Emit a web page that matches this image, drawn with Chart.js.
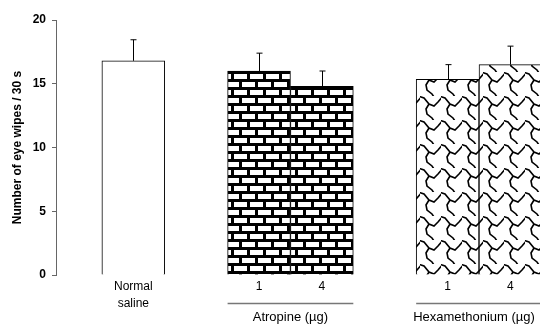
<!DOCTYPE html>
<html>
<head>
<meta charset="utf-8">
<script src="https://cdn.jsdelivr.net/npm/chart.js@4.4.1/dist/chart.umd.min.js"></script>
<style>
  html, body { margin: 0; padding: 0; background: #fff; }
  #wrap { width: 540px; height: 325px; }
</style>
</head>
<body>
<div id="wrap"><canvas id="myChart" width="540" height="325"></canvas></div>
<script>
// bar slots on the x axis (empty slots 2 and 5 separate the groups)
const slots = [1, 3, 4, 6, 7];
const tickLabels = { 1: ["Normal", "saline"], 3: "1", 4: "4", 6: "1", 7: "4" };
const means = [16.8, 16.0, 14.8, 15.35, 16.5];
const errors = [1.65, 1.4, 1.2, 1.15, 1.45];
const groups = [
  { label: "Atropine (\u00b5g)", bars: [1, 2] },
  { label: "Hexamethonium (\u00b5g)", bars: [3, 4] }
];

const FONT = "'Liberation Sans', Arial, sans-serif";

function brickPattern() {
  const c = document.createElement("canvas");
  c.width = 16; c.height = 16;
  const g = c.getContext("2d");
  g.fillStyle = "#000";
  g.fillRect(0, 0, 16, 16);
  g.fillStyle = "#fff";
  g.fillRect(2, 2, 13, 5);
  g.fillRect(10, 10, 6, 5);
  g.fillRect(0, 10, 7, 5);
  return g.createPattern(c, "repeat");
}

function hexPattern() {
  const c = document.createElement("canvas");
  c.width = 21; c.height = 24;
  const g = c.getContext("2d");
  g.fillStyle = "#fff";
  g.fillRect(0, 0, 21, 24);
  g.strokeStyle = "#000";
  g.lineWidth = 1.6;
  g.beginPath();
  g.moveTo(-2, 0); g.lineTo(4, 2); g.lineTo(9, 8); g.lineTo(14, 10); g.lineTo(18, 6); g.lineTo(23, 0);
  g.moveTo(9, 8); g.lineTo(6, 13); g.lineTo(7, 18); g.lineTo(12, 22); g.lineTo(14, 25);
  g.stroke();
  return g.createPattern(c, "repeat");
}

const brick = brickPattern();
const hex = hexPattern();
const fills = ["#fff", brick, brick, hex, hex];

const errorBars = {
  id: "errorBars",
  afterDatasetsDraw(chart) {
    const ctx = chart.ctx;
    const y = chart.scales.y;
    const meta = chart.getDatasetMeta(0);
    ctx.save();
    ctx.strokeStyle = "#000";
    ctx.lineWidth = 1;
    meta.data.forEach((bar, i) => {
      const x = Math.round(bar.x) + 0.5;
      const top = y.getPixelForValue(means[i] + errors[i]);
      ctx.beginPath();
      ctx.moveTo(x, bar.y);
      ctx.lineTo(x, top);
      ctx.moveTo(x - 3, top);
      ctx.lineTo(x + 3, top);
      ctx.stroke();
    });
    ctx.restore();
  }
};

const groupLabels = {
  id: "groupLabels",
  afterDraw(chart) {
    const ctx = chart.ctx;
    const meta = chart.getDatasetMeta(0);
    const base = chart.chartArea.bottom;
    ctx.save();
    groups.forEach((grp) => {
      const first = meta.data[grp.bars[0]];
      const last = meta.data[grp.bars[grp.bars.length - 1]];
      const x0 = first.x - first.width / 2;
      const x1 = last.x + last.width / 2;
      ctx.strokeStyle = "#777";
      ctx.lineWidth = 1.5;
      ctx.beginPath();
      ctx.moveTo(x0, base + 28.5);
      ctx.lineTo(x1, base + 28.5);
      ctx.stroke();
      ctx.fillStyle = "#000";
      ctx.font = "13px " + FONT;
      ctx.textAlign = "center";
      ctx.textBaseline = "middle";
      ctx.fillText(grp.label, Math.min((x0 + x1) / 2, chart.width - 66), base + 42);
    });
    ctx.restore();
  }
};

new Chart(document.getElementById("myChart").getContext("2d"), {
  type: "bar",
  data: {
    datasets: [{
      data: slots.map((s, i) => ({ x: s, y: means[i] })),
      backgroundColor: fills,
      borderColor: "#000",
      borderWidth: 1,
      barPercentage: 1,
      categoryPercentage: 1
    }]
  },
  options: {
    responsive: false,
    animation: false,
    layout: { padding: { top: 20, left: 0, right: 0, bottom: 0 } },
    plugins: { legend: { display: false }, tooltip: { enabled: false } },
    scales: {
      x: {
        type: "linear",
        offset: false,
        min: -0.23,
        max: 7.47,
        grid: { display: false, drawTicks: false },
        border: { display: false },
        ticks: {
          includeBounds: false,
          stepSize: 1,
          autoSkip: false,
          maxRotation: 0,
          padding: 4,
          color: "#000",
          font: { family: FONT, size: 12, lineHeight: 1.35 },
          callback: (v) => tickLabels[v] || ""
        },
        afterFit: (axis) => { axis.height = 50; }
      },
      y: {
        min: 0,
        max: 20,
        grid: { drawOnChartArea: false, drawTicks: true, tickLength: 4, color: "#666" },
        border: { display: true, color: "#666", width: 1 },
        ticks: {
          stepSize: 5,
          padding: 6,
          color: "#000",
          font: { family: FONT, size: 12, weight: "bold" }
        },
        title: {
          display: true,
          text: "Number of eye wipes / 30 s",
          color: "#000",
          padding: { top: 10, bottom: 0 },
          font: { family: FONT, size: 12, weight: "bold" }
        },
        afterFit: (axis) => { axis.width = 56; }
      }
    }
  },
  plugins: [errorBars, groupLabels]
});
</script>
</body>
</html>
